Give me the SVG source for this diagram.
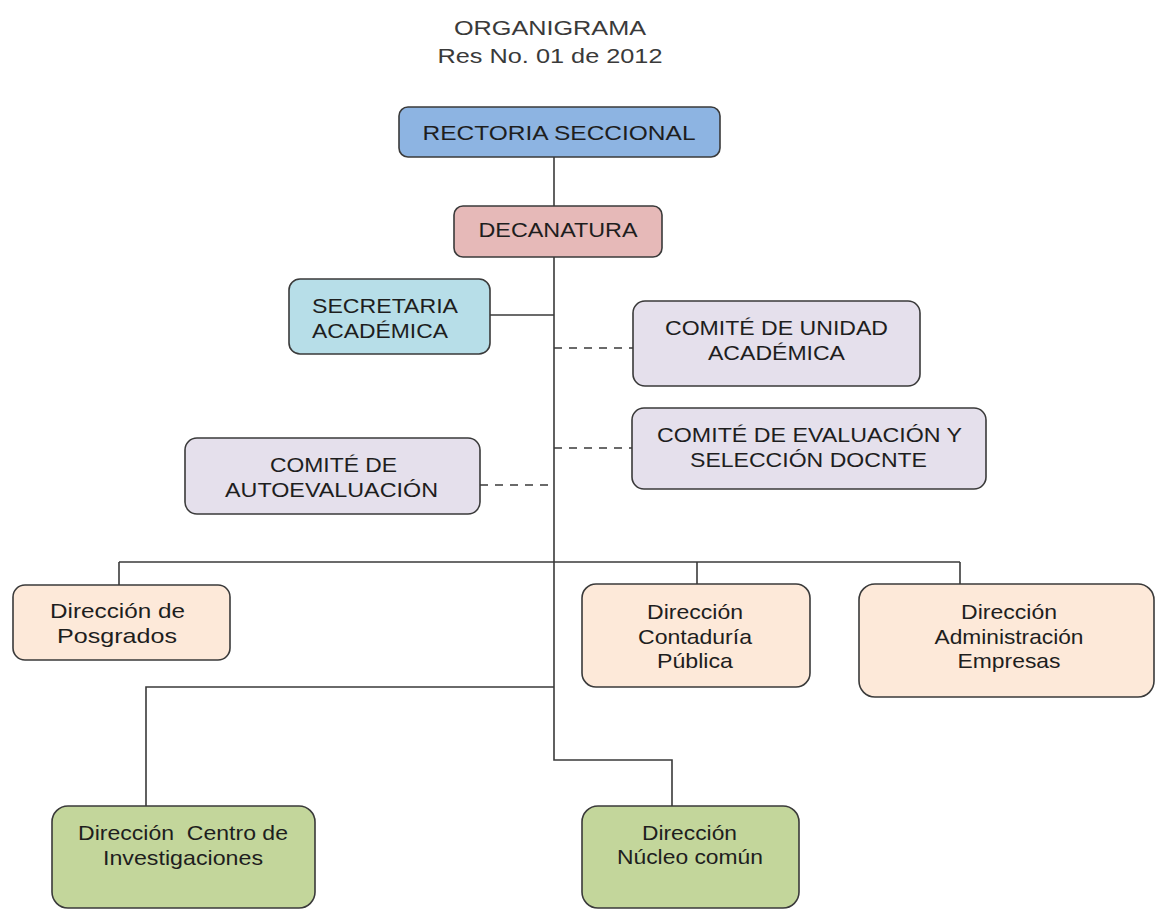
<svg xmlns="http://www.w3.org/2000/svg" width="1156" height="910" viewBox="0 0 1156 910">
<style>
  text { font-family: "Liberation Sans", Arial, sans-serif; font-size: 21px; fill: #1e1e1e; text-anchor: middle; }
  .title { fill: #3a3a3a; }
  .box { stroke: #3a3a3a; stroke-width: 1.6; }
  .line { stroke: #3a3a3a; stroke-width: 1.6; fill: none; }
  .dash { stroke: #3a3a3a; stroke-width: 1.6; fill: none; stroke-dasharray: 8 7; }
  .blue { fill: #8DB4E2; }
  .rose { fill: #E6B9B8; }
  .cyan { fill: #B7DEE8; }
  .lav { fill: #E5E0EC; }
  .peach { fill: #FDE9D9; }
  .green { fill: #C3D69B; }
</style>
<rect width="1156" height="910" fill="#ffffff"/>
<g id="title">
  <text class="title" x="550" y="35" textLength="192" lengthAdjust="spacingAndGlyphs">ORGANIGRAMA</text>
  <text class="title" x="550" y="63" textLength="225" lengthAdjust="spacingAndGlyphs">Res No. 01 de 2012</text>
</g>
<g id="connectors">
  <line class="line" x1="554" y1="157" x2="554" y2="206"/>
  <polyline class="line" points="554,257 554,760 672,760 672,806"/>
  <line class="line" x1="490" y1="315" x2="554" y2="315"/>
  <line class="dash" x1="554" y1="348" x2="633" y2="348"/>
  <line class="dash" x1="554" y1="448" x2="633" y2="448"/>
  <line class="dash" x1="480" y1="485" x2="554" y2="485"/>
  <line class="line" x1="119" y1="562" x2="960" y2="562"/>
  <line class="line" x1="119" y1="562" x2="119" y2="585"/>
  <line class="line" x1="697" y1="562" x2="697" y2="584"/>
  <line class="line" x1="960" y1="562" x2="960" y2="584"/>
  <polyline class="line" points="554,687 146,687 146,806"/>
</g>
<g id="rectoria">
  <rect class="box blue" x="399" y="107" width="321" height="50" rx="9"/>
  <text x="559" y="140" textLength="273" lengthAdjust="spacingAndGlyphs">RECTORIA SECCIONAL</text>
</g>
<g id="decanatura">
  <rect class="box rose" x="454" y="206" width="208" height="51" rx="9"/>
  <text x="558" y="237" textLength="159" lengthAdjust="spacingAndGlyphs">DECANATURA</text>
</g>
<g id="secretaria">
  <rect class="box cyan" x="289" y="279" width="201" height="75" rx="11"/>
  <text x="312" y="313" style="text-anchor:start" textLength="146" lengthAdjust="spacingAndGlyphs">SECRETARIA</text>
  <text x="312" y="338" style="text-anchor:start" textLength="136" lengthAdjust="spacingAndGlyphs">ACADÉMICA</text>
</g>
<g id="comite-unidad">
  <rect class="box lav" x="633" y="301" width="287" height="85" rx="12"/>
  <text x="776.5" y="335" textLength="223" lengthAdjust="spacingAndGlyphs">COMITÉ DE UNIDAD</text>
  <text x="776.5" y="360" textLength="137" lengthAdjust="spacingAndGlyphs">ACADÉMICA</text>
</g>
<g id="comite-evaluacion">
  <rect class="box lav" x="632" y="408" width="354" height="81" rx="12"/>
  <text x="809.5" y="442" textLength="305" lengthAdjust="spacingAndGlyphs">COMITÉ DE EVALUACIÓN Y</text>
  <text x="808.5" y="467" textLength="237" lengthAdjust="spacingAndGlyphs">SELECCIÓN DOCNTE</text>
</g>
<g id="comite-autoevaluacion">
  <rect class="box lav" x="185" y="438" width="295" height="76" rx="12"/>
  <text x="333.5" y="472" textLength="127" lengthAdjust="spacingAndGlyphs">COMITÉ DE</text>
  <text x="331.5" y="497" textLength="213" lengthAdjust="spacingAndGlyphs">AUTOEVALUACIÓN</text>
</g>
<g id="posgrados">
  <rect class="box peach" x="13" y="585" width="217" height="75" rx="12"/>
  <text x="117.5" y="618" textLength="135" lengthAdjust="spacingAndGlyphs">Dirección de</text>
  <text x="117" y="643" textLength="120" lengthAdjust="spacingAndGlyphs">Posgrados</text>
</g>
<g id="contaduria">
  <rect class="box peach" x="582" y="584" width="228" height="103" rx="14"/>
  <text x="695" y="619" textLength="96" lengthAdjust="spacingAndGlyphs">Dirección</text>
  <text x="695" y="644" textLength="114" lengthAdjust="spacingAndGlyphs">Contaduría</text>
  <text x="695" y="668" textLength="76" lengthAdjust="spacingAndGlyphs">Pública</text>
</g>
<g id="administracion">
  <rect class="box peach" x="859" y="584" width="295" height="113" rx="16"/>
  <text x="1009" y="619" textLength="96" lengthAdjust="spacingAndGlyphs">Dirección</text>
  <text x="1009" y="644" textLength="149" lengthAdjust="spacingAndGlyphs">Administración</text>
  <text x="1009" y="668" textLength="103" lengthAdjust="spacingAndGlyphs">Empresas</text>
</g>
<g id="investigaciones">
  <rect class="box green" x="52" y="806" width="263" height="102" rx="16"/>
  <text x="183" y="840" style="white-space:pre" textLength="210" lengthAdjust="spacingAndGlyphs">Dirección  Centro de</text>
  <text x="183" y="865" textLength="160" lengthAdjust="spacingAndGlyphs">Investigaciones</text>
</g>
<g id="nucleo">
  <rect class="box green" x="582" y="806" width="217" height="102" rx="16"/>
  <text x="689.5" y="840" textLength="95" lengthAdjust="spacingAndGlyphs">Dirección</text>
  <text x="690" y="864" textLength="146" lengthAdjust="spacingAndGlyphs">Núcleo común</text>
</g>
</svg>
